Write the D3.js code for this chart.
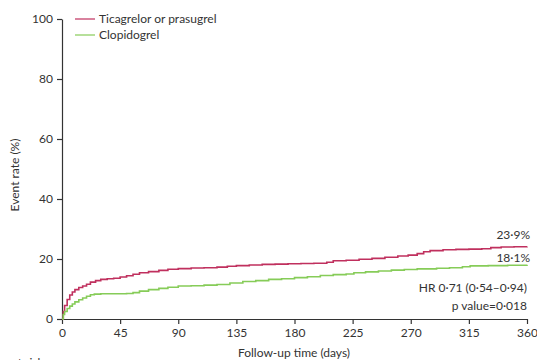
<!DOCTYPE html>
<html>
<head>
<script src="https://cdn.jsdelivr.net/npm/d3@7"></script>
<style>
  body { margin: 0; background: #fff; }
  svg text { font-family: Lato, "Open Sans", sans-serif; fill: #333; }
</style>
</head>
<body>
<div id="chart"></div>
<script>
var width = 537, height = 360;

var xTicks = [0, 45, 90, 135, 180, 225, 270, 315, 360];
var yTicks = [0, 20, 40, 60, 80, 100];

var seriesNames = ["Ticagrelor or prasugrel", "Clopidogrel"];
var seriesColors = ["#c0305e", "#86cc58"];

var redDays = [0,1,2,4,6,8,10,13,16,19,22,26,30,35,40,45,50,55,60,67,75,82,90,100,110,120,128,135,145,155,165,175,185,195,205,210,220,230,240,250,260,268,275,280,285,295,305,315,325,332,340,350,360];
var redRate = [0,2.5,4.5,6.5,8,9,9.8,10.5,11,11.6,12.3,12.8,13.2,13.4,13.6,14.0,14.4,14.9,15.4,15.8,16.2,16.6,16.8,17.0,17.1,17.3,17.6,17.8,18.0,18.2,18.3,18.4,18.5,18.6,18.9,19.4,19.6,19.9,20.2,20.6,21.0,21.3,21.8,22.4,22.8,23.1,23.2,23.3,23.4,23.8,24.0,24.1,24.2];

var greenDays = [0,1,2,4,6,8,10,13,16,19,22,25,30,40,50,55,60,67,75,82,90,100,110,120,130,140,150,160,170,180,190,200,210,220,226,235,245,255,265,275,290,300,310,316,330,345,360];
var greenRate = [0,1.5,2.5,3.5,4.3,5,5.7,6.4,7,7.6,8.1,8.3,8.4,8.4,8.5,8.8,9.3,9.8,10.2,10.6,11.0,11.1,11.3,11.5,12.0,12.5,12.8,13.2,13.4,13.8,14.1,14.5,14.8,15.0,15.4,15.7,16.0,16.3,16.5,16.7,16.9,17.1,17.4,17.7,17.8,17.9,18.1];

var endLabels = ["23\u00b79%", "18\u00b71%"];
var statLines = ["HR 0\u00b771 (0\u00b754\u20130\u00b794)", "p value=0\u00b7018"];

var svg = d3.select("#chart").append("svg")
    .attr("width", width)
    .attr("height", height);

var x = d3.scaleLinear().domain([0, 360]).range([62, 527]);
var y = d3.scaleLinear().domain([0, 100]).range([319, 19]);

// axes
svg.append("g")
    .attr("transform", "translate(0," + y(0) + ")")
    .call(d3.axisBottom(x).tickValues(xTicks).tickSize(5).tickPadding(4).tickSizeOuter(0));
svg.append("g")
    .attr("transform", "translate(" + x(0) + ",0)")
    .call(d3.axisLeft(y).tickValues(yTicks).tickSize(5).tickPadding(4).tickSizeOuter(0));

svg.selectAll(".domain, .tick line").attr("stroke", "#333").attr("stroke-width", 1.2);
svg.selectAll(".tick text").style("font-size", "12px").attr("fill", "#333");

// curves
var line = d3.line()
    .x(function(d) { return x(d[0]); })
    .y(function(d) { return y(d[1]); })
    .curve(d3.curveStepAfter);

var series = [d3.zip(redDays, redRate), d3.zip(greenDays, greenRate)];

svg.selectAll(".km")
    .data(series)
    .enter()
    .append("path")
    .attr("class", "km")
    .attr("fill", "none")
    .attr("stroke", function(d, i) { return seriesColors[i]; })
    .attr("stroke-width", 1.6)
    .attr("d", line);

// legend
var legend = svg.selectAll(".leg")
    .data(seriesNames)
    .enter()
    .append("g")
    .attr("transform", function(d, i) { return "translate(75," + (19 + i * 16) + ")"; });
legend.append("line")
    .attr("x1", 0).attr("x2", 20)
    .attr("stroke", function(d, i) { return seriesColors[i]; })
    .attr("stroke-width", 1.2);
legend.append("text")
    .attr("x", 24).attr("dy", "0.35em")
    .style("font-size", "12px")
    .text(function(d) { return d; });

// end-of-curve labels
svg.selectAll(".endlab")
    .data(endLabels)
    .enter()
    .append("text")
    .attr("x", 530)
    .attr("y", function(d, i) { return [239, 262][i]; })
    .attr("text-anchor", "end")
    .style("font-size", "12px")
    .text(function(d) { return d; });

svg.selectAll(".stat")
    .data(statLines)
    .enter()
    .append("text")
    .attr("x", 527)
    .attr("y", function(d, i) { return 292 + i * 18; })
    .attr("text-anchor", "end")
    .style("font-size", "12px")
    .text(function(d) { return d; });

// axis titles
svg.append("text")
    .attr("transform", "translate(19,175) rotate(-90)")
    .attr("text-anchor", "middle")
    .style("font-size", "12px")
    .text("Event rate (%)");

svg.append("text")
    .attr("x", 294).attr("y", 357)
    .attr("text-anchor", "middle")
    .style("font-size", "12px")
    .text("Follow-up time (days)");

// partly visible caption at the bottom edge, cut off as in the source
svg.append("text")
    .attr("x", -34).attr("y", 367)
    .style("font-size", "12px")
    .text("Number at risk");
</script>
</body>
</html>
